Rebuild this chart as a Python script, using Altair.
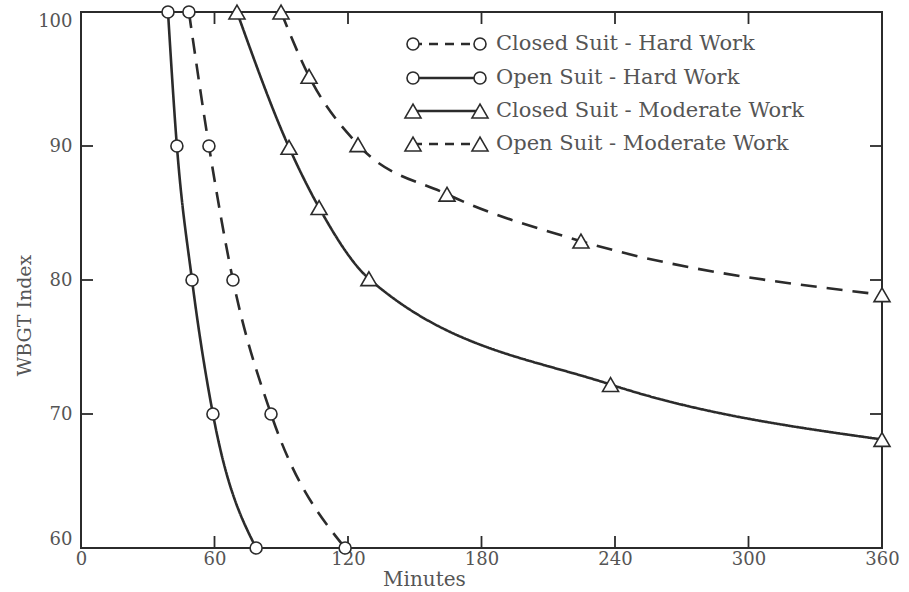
import altair as alt
import pandas as pd

# ---------------- data ----------------
series_names = [
    "Closed Suit - Hard Work",
    "Open Suit - Hard Work",
    "Closed Suit - Moderate Work",
    "Open Suit - Moderate Work",
]

closed_hard_min = [48.5, 57.5, 68.3, 85.4, 118.7]
closed_hard_wbgt = [100, 90, 80, 70, 60]

open_hard_min = [39.1, 43.1, 49.9, 59.3, 78.7]
open_hard_wbgt = [100, 90, 80, 70, 60]

closed_mod_min = [70.1, 93.5, 107.0, 129.4, 238.0, 360]
closed_mod_wbgt = [100, 89.9, 85.4, 80.1, 72.2, 68.1]

open_mod_min = [89.9, 102.5, 124.5, 164.5, 224.7, 360]
open_mod_wbgt = [100, 95.2, 90.1, 86.4, 82.9, 78.9]

x_ticks = [0, 60, 120, 180, 240, 300, 360]
y_ticks = [60, 70, 80, 90, 100]
x_inner_ticks = [60, 120, 180, 240, 300]
y_inner_ticks = [70, 80, 90]

# ---------------- styling ----------------
W, H = 801, 536
INK = "#2b2b2b"
TXT = "#555555"
FONT = "DejaVu Serif"
DASH = [16, 10]
SOLID = [1, 0]
dash_range = [DASH, SOLID, SOLID, DASH]
shape_of = ["circle", "circle", "triangle-up", "triangle-up"]
size_of = [144, 144, 256, 256]

rows = []
for name, xs, ys in [
    (series_names[0], closed_hard_min, closed_hard_wbgt),
    (series_names[1], open_hard_min, open_hard_wbgt),
    (series_names[2], closed_mod_min, closed_mod_wbgt),
    (series_names[3], open_mod_min, open_mod_wbgt),
]:
    for x, y in zip(xs, ys):
        rows.append({"series": name, "minutes": x, "wbgt": y})
df = pd.DataFrame(rows)

xscale = alt.Scale(domain=[0, 360], nice=False, zero=False)
yscale = alt.Scale(domain=[60, 100], nice=False, zero=False)

x_axis = alt.Axis(
    title="Minutes", values=x_ticks, grid=False, ticks=False, domain=False,
    labelPadding=2, labelFlush=False, labelFont=FONT, labelFontSize=18,
    labelColor=TXT, titleFont=FONT, titleFontSize=20, titleColor=TXT,
    titleFontWeight="normal", titleX=343, titleY=37, titleBaseline="alphabetic",
)
y_axis = alt.Axis(
    title="WBGT Index", values=y_ticks, grid=False, ticks=False, domain=False,
    labelPadding=9, labelFlush=True, labelFont=FONT, labelFontSize=18,
    labelColor=TXT, titleFont=FONT, titleFontSize=19, titleColor=TXT,
    titleFontWeight="normal", titleX=-57, titleY=303, titleBaseline="middle",
    titleAngle=270,
)


def X(field="minutes"):
    return alt.X(f"{field}:Q", scale=xscale, axis=x_axis)


def Y(field="wbgt"):
    return alt.Y(f"{field}:Q", scale=yscale, axis=y_axis)


lines = alt.Chart(df).mark_line(
    color=INK, strokeWidth=2.6, interpolate="monotone"
).encode(
    x=X(), y=Y(), detail="series:N",
    strokeDash=alt.StrokeDash(
        "series:N", scale=alt.Scale(domain=series_names, range=dash_range), legend=None
    ),
)

circles = alt.Chart(df).transform_filter(
    alt.FieldOneOfPredicate(field="series", oneOf=series_names[:2])
).mark_point(
    shape="circle", size=144, filled=True, fill="white", stroke=INK,
    strokeWidth=1.6, opacity=1,
).encode(x=X(), y=Y())

triangles = alt.Chart(df).transform_filter(
    alt.FieldOneOfPredicate(field="series", oneOf=series_names[2:])
).mark_point(
    shape="triangle-up", size=256, filled=True, fill="white", stroke=INK,
    strokeWidth=1.6, opacity=1,
).encode(x=X(), y=Y())

# inward ticks on all four sides
xt = pd.DataFrame({"minutes": x_inner_ticks})
yt = pd.DataFrame({"wbgt": y_inner_ticks})
TL = 12
tick_top = alt.Chart(xt).mark_rule(color=INK, strokeWidth=1.8).encode(
    x=X(), y=alt.value(0), y2=alt.value(TL))
tick_bottom = alt.Chart(xt).mark_rule(color=INK, strokeWidth=1.8).encode(
    x=X(), y=alt.value(H), y2=alt.value(H - TL))
tick_left = alt.Chart(yt).mark_rule(color=INK, strokeWidth=1.8).encode(
    y=Y(), x=alt.value(0), x2=alt.value(TL))
tick_right = alt.Chart(yt).mark_rule(color=INK, strokeWidth=1.8).encode(
    y=Y(), x=alt.value(W), x2=alt.value(W - TL))

# hand-made legend inside the plot
legend_layers = []
leg_x0, leg_x1, leg_tx = 332, 399, 415
leg_y = [32, 66, 99, 132]
for i, name in enumerate(series_names):
    ldf = pd.DataFrame({"label": [name]})
    yy = leg_y[i]
    legend_layers.append(
        alt.Chart(ldf).mark_rule(color=INK, strokeWidth=2.6, strokeDash=[9, 7] if dash_range[i] == DASH else SOLID).encode(
            x=alt.value(leg_x0), x2=alt.value(leg_x1), y=alt.value(yy))
    )
    for px in (leg_x0, leg_x1):
        legend_layers.append(
            alt.Chart(ldf).mark_point(
                shape=shape_of[i], size=size_of[i], filled=True, fill="white",
                stroke=INK, strokeWidth=1.6, opacity=1,
            ).encode(x=alt.value(px), y=alt.value(yy))
        )
    legend_layers.append(
        alt.Chart(ldf).mark_text(
            align="left", baseline="middle", font=FONT, fontSize=21, color=TXT
        ).encode(x=alt.value(leg_tx), y=alt.value(yy), text="label:N")
    )

chart = alt.layer(
    tick_top, tick_bottom, tick_left, tick_right,
    lines, circles, triangles, *legend_layers,
).properties(
    width=W, height=H,
    autosize=alt.AutoSizeParams(type="none"),
    padding={"left": 81, "top": 12, "right": 27, "bottom": 44},
    background="white",
).configure_view(
    stroke=INK, strokeWidth=2
)

chart.save("out.html", embed_options={"renderer": "svg", "actions": False})
